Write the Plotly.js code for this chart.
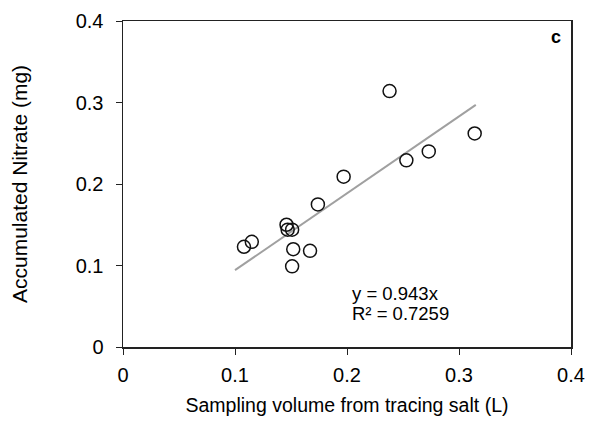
<!DOCTYPE html>
<html>
<head>
<meta charset="utf-8">
<script src="https://cdn.plot.ly/plotly-3.0.1.min.js"></script>
<style>html,body{margin:0;padding:0;background:#fff;}#chart{width:589px;height:421px;}</style>
</head>
<body>
<div id="chart"></div>
<script>
const samplingVolume = [0.108, 0.115, 0.146, 0.147, 0.151, 0.152, 0.167, 0.151, 0.174, 0.197, 0.238, 0.253, 0.273, 0.314];
const accumulatedNitrate = [0.123, 0.129, 0.150, 0.144, 0.144, 0.120, 0.118, 0.099, 0.175, 0.209, 0.314, 0.229, 0.240, 0.262];
const fitX = [0.1, 0.315];
const fitSlope = 0.943;
const tickVals = [0, 0.1, 0.2, 0.3, 0.4];
const tickText = ['0', '0.1', '0.2', '0.3', '0.4'];

const fitY = fitX.map(x => fitSlope * x);
const font = 'Liberation Sans, Arial, sans-serif';

const traces = [
  {x: fitX, y: fitY, mode: 'lines', line: {color: '#a0a0a0', width: 2}, hoverinfo: 'skip'},
  {x: samplingVolume, y: accumulatedNitrate, mode: 'markers',
   marker: {symbol: 'circle', size: 13, color: 'rgba(255,255,255,0)', line: {color: '#111', width: 1.5}}}
];

const axisCommon = {
  range: [0, 0.4], tickvals: tickVals, ticktext: tickText,
  ticks: 'outside', ticklen: 6, tickwidth: 1, tickcolor: '#222',
  showline: true, linecolor: '#222', linewidth: 1.5, mirror: true,
  showgrid: false, zeroline: false,
  tickfont: {family: font, size: 20, color: '#000'}
};

const layout = {
  width: 589, height: 421,
  margin: {l: 123, r: 18, t: 21, b: 74},
  paper_bgcolor: '#fff', plot_bgcolor: '#fff',
  showlegend: false,
  xaxis: Object.assign({}, axisCommon, {
    ticklabelstandoff: 3,
    title: {text: 'Sampling volume from tracing salt (L)', font: {family: font, size: 19.5, color: '#000'}, standoff: 14}
  }),
  yaxis: Object.assign({}, axisCommon, {
    ticklabelstandoff: 8,
    title: {text: 'Accumulated Nitrate (mg)', font: {family: font, size: 21, color: '#000'}, standoff: 42}
  }),
  annotations: [
    {xref: 'paper', yref: 'paper', x: 0.9665, y: 0.951, xanchor: 'center', yanchor: 'middle', text: '<b>c</b>', showarrow: false, font: {family: font, size: 18, color: '#000'}},
    {xref: 'x', yref: 'y', x: 0.2027, y: 0.0656, xanchor: 'left', yanchor: 'middle', text: 'y = 0.943x', showarrow: false, font: {family: font, size: 18.5, color: '#000'}},
    {xref: 'x', yref: 'y', x: 0.2027, y: 0.041, xanchor: 'left', yanchor: 'middle', text: 'R² = 0.7259', showarrow: false, font: {family: font, size: 18.5, color: '#000'}}
  ]
};

Plotly.newPlot('chart', traces, layout, {displayModeBar: false, staticPlot: true});
</script>
</body>
</html>
